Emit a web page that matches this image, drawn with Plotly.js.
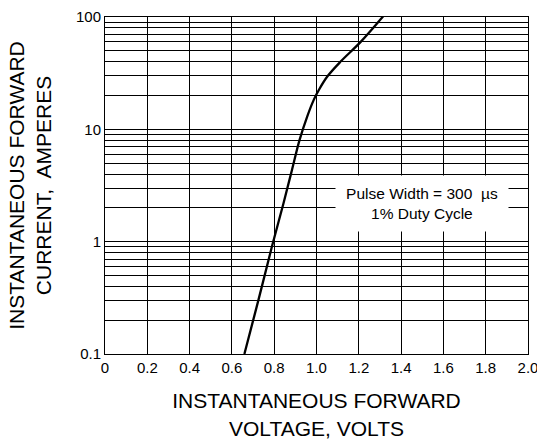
<!DOCTYPE html>
<html>
<head>
<meta charset="utf-8">
<script src="https://cdn.plot.ly/plotly-3.0.1.min.js"></script>
<style>html,body{margin:0;padding:0;background:#fff;}#chart{width:537px;height:441px;}</style>
</head>
<body>
<div id="chart"></div>
<script>
// Forward voltage (V) vs instantaneous forward current (A)
const voltage = [0.659, 0.725, 0.789, 0.844, 0.884, 0.920, 0.956, 0.987, 1.011, 1.051, 1.114, 1.21, 1.32];
const current = [0.1, 0.3, 0.9, 2.2, 4.35, 8.05, 13.0, 18.3, 22.4, 29.5, 40.1, 60.4, 104];

const xTickVals = [0, 0.2, 0.4, 0.6, 0.8, 1.0, 1.2, 1.4, 1.6, 1.8, 2.0];
const xTickText = ["0", "0.2", "0.4", "0.6", "0.8", "1.0", "1.2", "1.4", "1.6", "1.8", "2.0"];
const yTickVals = [0.1, 1, 10, 100];
const yTickText = ["0.1", "1", "10", "100"];

const FONT = "Liberation Sans, Arial, sans-serif";

const trace = {
  x: voltage, y: current, type: "scatter", mode: "lines",
  line: {color: "#000", width: 2.3, shape: "spline", smoothing: 1},
  cliponaxis: false, hoverinfo: "skip"
};

const layout = {
  width: 537, height: 441,
  margin: {l: 105, r: 9, t: 17, b: 87},
  paper_bgcolor: "#fff", plot_bgcolor: "#fff",
  showlegend: false,
  font: {family: FONT, color: "#000", size: 15},
  xaxis: {
    range: [0, 2], tickvals: xTickVals, ticktext: xTickText,
    showgrid: true, gridcolor: "#000", gridwidth: 1,
    showline: true, linecolor: "#000", linewidth: 1, mirror: true,
    zeroline: false, ticks: "", tickfont: {size: 15, family: FONT},
    ticklabeloverflow: "allow",
    title: {text: "INSTANTANEOUS FORWARD<br>VOLTAGE, VOLTS", font: {size: 21, family: FONT}, standoff: 18}
  },
  yaxis: {
    type: "log", range: [-1, 2], tickvals: yTickVals, ticktext: yTickText,
    showgrid: true, gridcolor: "#000", gridwidth: 1,
    minor: {dtick: "D1", showgrid: true, gridcolor: "#000", gridwidth: 1, ticks: ""},
    showline: true, linecolor: "#000", linewidth: 1, mirror: true,
    zeroline: false, ticks: "", tickfont: {size: 15, family: FONT},
    ticklabeloverflow: "allow",
    title: {text: "INSTANTANEOUS FORWARD<br>CURRENT,\u00a0 AMPERES", font: {size: 21, family: FONT}, standoff: 18}
  },
  annotations: [{
    x: 1.5, y: 0.34, xref: "x", yref: "y",
    text: "Pulse Width = 300\u00a0 \u00b5s<br>1% Duty Cycle",
    showarrow: false, bgcolor: "#fff", borderpad: 7,
    width: 158, height: 41,
    font: {size: 15.5, family: FONT, color: "#000"}
  }]
};

Plotly.newPlot("chart", [trace], layout, {staticPlot: true, displayModeBar: false});
</script>
</body>
</html>
